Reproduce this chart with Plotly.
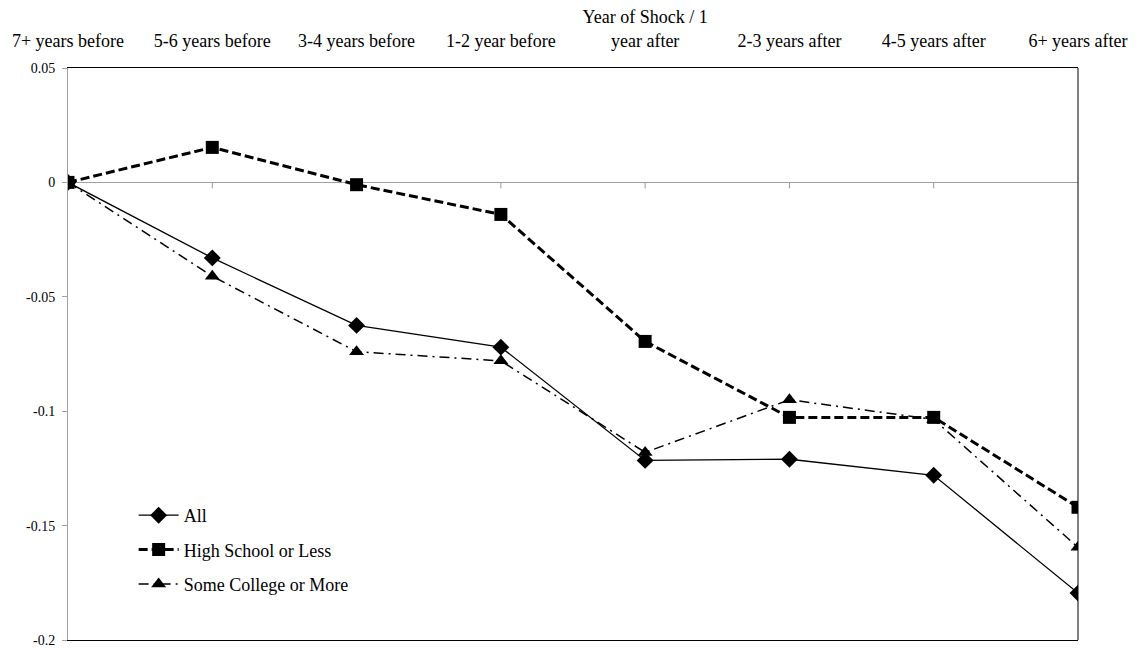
import plotly.graph_objects as go

categories = ["7+ years before", "5-6 years before", "3-4 years before", "1-2 year before",
              "Year of Shock / 1<br>year after", "2-3 years after", "4-5 years after", "6+ years after"]
all_vals = [0.0, -0.033, -0.0625, -0.072, -0.1215, -0.121, -0.128, -0.1795]
hs_vals = [0.0, 0.0153, -0.001, -0.014, -0.0695, -0.1027, -0.1027, -0.142]
sc_vals = [0.0, -0.041, -0.074, -0.078, -0.118, -0.095, -0.1036, -0.1595]
ytick_vals = [0.05, 0, -0.05, -0.1, -0.15, -0.2]
ytick_text = ["0.05", "0", "-0.05", "-0.1", "-0.15", "-0.2"]

FONT = "'Liberation Serif', 'Times New Roman', Times, serif"
xs = list(range(len(categories)))

fig = go.Figure()
fig.add_trace(go.Scatter(x=xs, y=all_vals, name="All", mode="lines+markers", legendgroup="a",
                         line=dict(color="black", width=1.3),
                         marker=dict(symbol="diamond", size=13, color="black")))
fig.add_trace(go.Scatter(x=xs, y=hs_vals, name="High School or Less", mode="lines+markers", legendgroup="b",
                         line=dict(color="black", width=3, dash="9px,4px"),
                         marker=dict(symbol="square", size=13, color="black")))
fig.add_trace(go.Scatter(x=xs, y=sc_vals, name="Some College or More", mode="lines+markers", legendgroup="c",
                         line=dict(color="black", width=1.5, dash="10px,5px,2px,5px"),
                         marker=dict(symbol="triangle-up", size=13, color="black")))

# small tick marks on the zero line at each category
for x in xs[1:-1]:
    fig.add_shape(type="line", xref="x", yref="y", x0=x, x1=x, y0=0, y1=-6,
                  ysizemode="pixel", yanchor=0, line=dict(color="#999999", width=1),
                  layer="below")

# right border
fig.add_shape(type="line", xref="paper", yref="paper", x0=1, x1=1, y0=0, y1=1,
              line=dict(color="black", width=1))

fig.update_layout(
    width=1133, height=647,
    margin=dict(l=60, r=63, t=60, b=15),
    paper_bgcolor="white", plot_bgcolor="white",
    font=dict(family=FONT, size=18, color="black"),
    xaxis=dict(range=[0, len(categories) - 1], side="top", tickvals=xs, ticktext=categories,
               showgrid=False, zeroline=False, showline=True, mirror=True, linecolor="black",
               linewidth=1, ticks="", ticklabelstandoff=13, automargin=False,
               tickfont=dict(family=FONT, size=18, color="black")),
    yaxis=dict(range=[-0.2, 0.05], tickvals=ytick_vals, ticktext=ytick_text, showgrid=False,
               zeroline=True, zerolinecolor="#a0a0a0", zerolinewidth=1, automargin=False,
               showline=True, linecolor="#a0a0a0", linewidth=1, ticks="outside", ticklen=5,
               tickcolor="#a0a0a0", ticklabelstandoff=4,
               tickfont=dict(family=FONT, size=14, color="black")),
    showlegend=True,
    legend=dict(x=0.065, y=0.25, xanchor="left", yanchor="top", bgcolor="rgba(0,0,0,0)",
                font=dict(family=FONT, size=18, color="black"), traceorder="grouped",
                tracegroupgap=8, itemwidth=40),
)

fig.write_html("out.html")
